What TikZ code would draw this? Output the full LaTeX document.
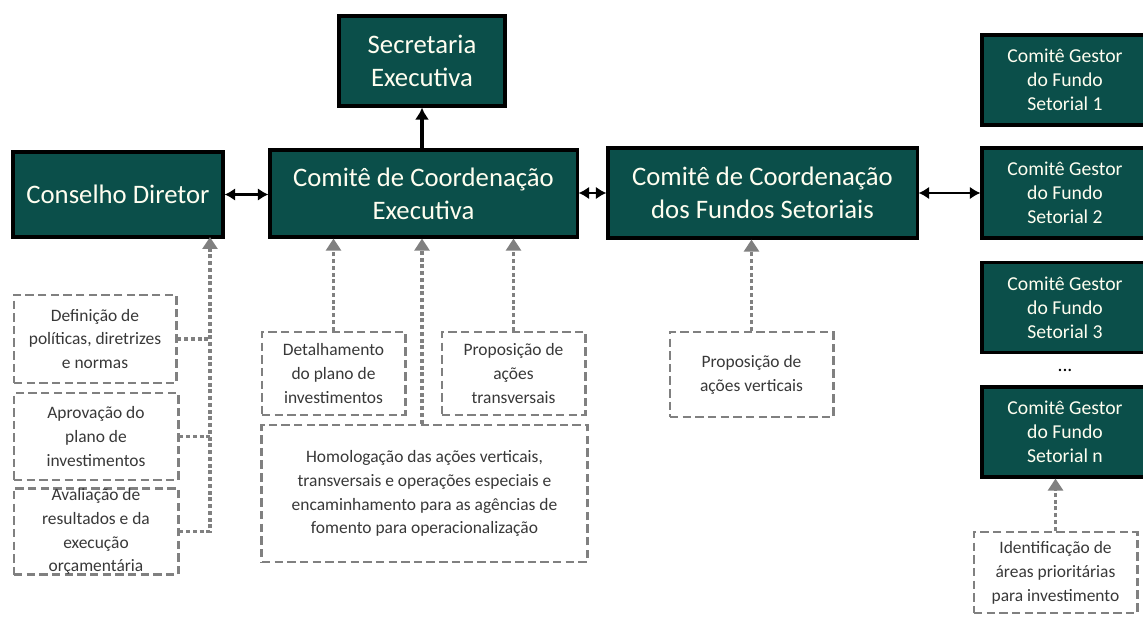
\documentclass[tikz,border=0pt]{standalone}
\usepackage{fontspec}
\setmainfont{Carlito}
\usetikzlibrary{arrows.meta,positioning}
\definecolor{boxteal}{HTML}{0B4F4A}
\definecolor{notegray}{HTML}{808080}
\definecolor{notetext}{HTML}{383838}
\tikzstyle{block} = [draw=black, line width=2.2pt, fill=boxteal, text={white!94!yellow}, align=center, inner sep=0pt]
\tikzstyle{bigblock} = [block, font=\fontsize{19}{23.5}\selectfont]
\tikzstyle{fundo} = [block, font=\fontsize{14}{17}\selectfont, minimum width=4.15cm, minimum height=2.25cm]
\tikzstyle{note} = [draw=notegray, line width=2.1pt, dash pattern=on 6pt off 3pt, align=center, text=notetext, inner sep=0pt, font=\fontsize{12.4}{17}\selectfont]
\tikzstyle{link} = [black, line width=2.1pt, {Latex[length=7.5pt,width=9pt]}-{Latex[length=7.5pt,width=9pt]}]
\tikzstyle{feed} = [notegray, line width=2.8pt, dash pattern=on 2.8pt off 2pt, -{Triangle[length=8.5pt,width=10.5pt]}]

\begin{document}
\begin{tikzpicture}[x=0.025cm,y=-0.025cm]
	\useasboundingbox (0,0) rectangle (1143,617);

	% main blocks
	\node [bigblock,minimum width=5.25cm,minimum height=2.125cm] (cd) at (118,194.5) {Conselho Diretor};
	\node [bigblock,minimum width=7.675cm,minimum height=2.175cm] (cce) at (423.5,193.5) {Comitê de Coordenação\\Executiva};
	\node [bigblock,minimum width=4.15cm,minimum height=2.25cm] (se) at (422,61) {Secretaria\\Executiva};
	\node [bigblock,minimum width=7.725cm,minimum height=2.25cm] (ccfs) at (762.5,193) {Comitê de Coordenação\\dos Fundos Setoriais};

	% comites gestores
	\node [fundo] (g1) at (1065,80) {Comitê Gestor\\do Fundo\\Setorial 1};
	\node [fundo] (g2) at (1065,193) {Comitê Gestor\\do Fundo\\Setorial 2};
	\node [fundo] (g3) at (1065,307.5) {Comitê Gestor\\do Fundo\\Setorial 3};
	\node [fundo] (gn) at (1065,432) {Comitê Gestor\\do Fundo\\Setorial n};
	\node [font=\fontsize{14}{17}\selectfont] (dots) at (1065,370) {...};

	% attributions
	\node [note,minimum width=4.05cm,minimum height=2.2cm] (def) at (95,339) {Definição de\\políticas, diretrizes\\e normas};
	\node [note,minimum width=4.1cm,minimum height=2.175cm] (apr) at (96,436.5) {Aprovação do\\plano de\\investimentos};
	\node [note,minimum width=4.1cm,minimum height=2.075cm] (aval) at (96,531.5) {Avaliação de\\resultados e da\\execução\\orçamentária};
	\node [note,minimum width=3.575cm,minimum height=2.075cm] (det) at (333.5,373.5) {Detalhamento\\do plano de\\investimentos};
	\node [note,minimum width=3.575cm,minimum height=2.075cm] (ptr) at (513.5,373.5) {Proposição de\\ações\\transversais};
	\node [note,minimum width=8.125cm,minimum height=3.425cm] (hom) at (424.5,493.5) {Homologação das ações verticais,\\transversais e operações especiais e\\encaminhamento para as agências de\\fomento para operacionalização};
	\node [note,minimum width=4.075cm,minimum height=2.125cm] (pve) at (751.5,374.5) {Proposição de\\ações verticais};
	\node [note,minimum width=4.075cm,minimum height=2.025cm] (idf) at (1055.5,572.5) {Identificação de\\áreas prioritárias\\para investimento};

	% links between blocks
	\draw [link] (cd) -- (cce.west |- cd);
	\draw [link] (cce.east |- ccfs) -- (ccfs);
	\draw [link] (ccfs) -- (g2);
	\draw [black, line width=2.4pt, -{Latex[length=8.5pt,width=10pt]}] (cce.north -| se) -- (se);

	% feeds
	\coordinate (cdin) at (210,237);
	\draw [feed] (aval.east) -| (cdin);
	\draw [feed, -] (def.east) -- (def.east -| cdin);
	\draw [feed, -] (apr.east) -- (apr.east -| cdin);
	\draw [feed] (det.north) -- (det.north |- cce.south);
	\draw [feed] (hom.north -| se) -- (se |- cce.south);
	\draw [feed] (ptr.north) -- (ptr.north |- cce.south);
	\draw [feed] (pve.north) -- (pve.north |- ccfs.south);
	\draw [feed] (idf.north) -- (idf.north |- gn.south);
\end{tikzpicture}
\end{document}
